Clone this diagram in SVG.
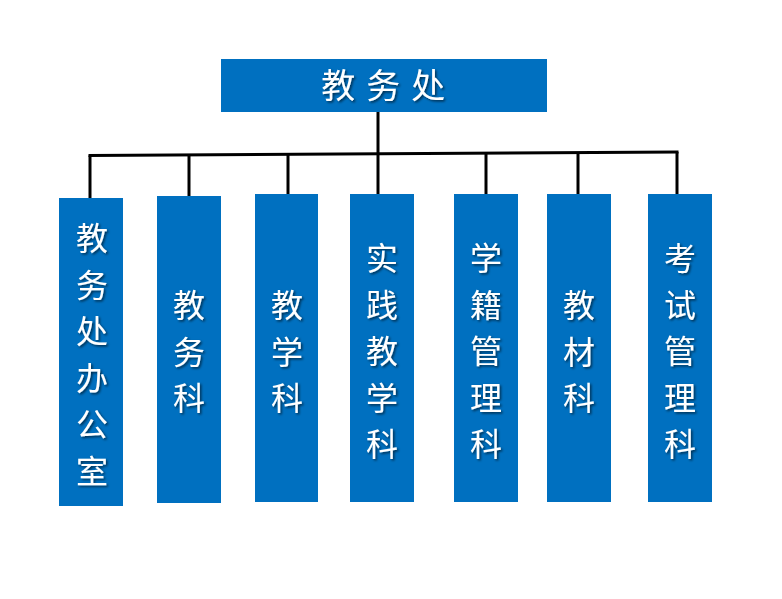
<svg xmlns="http://www.w3.org/2000/svg" width="782" height="599" viewBox="0 0 782 599">
<defs>
<filter id="sh" x="-20%" y="-20%" width="140%" height="140%">
<feDropShadow dx="1.5" dy="1.5" stdDeviation="1" flood-color="#000" flood-opacity="0.6"/>
</filter>
<style>
.box{fill:#0070C0;}
.t{font-family:"Noto Sans CJK SC","Noto Sans CJK JP",sans-serif;fill:#fff;text-anchor:middle;filter:url(#sh);}
.v{font-size:32px;}
.c{stroke:#000;stroke-width:3;fill:none;}
</style>
</defs>
<rect width="782" height="599" fill="#fff"/>
<g id="connectors">
<line class="c" x1="378" y1="112" x2="378" y2="194"/>
<line class="c" x1="88.5" y1="155.5" x2="678.5" y2="152"/>
<line class="c" x1="90" y1="155.5" x2="90" y2="198"/>
<line class="c" x1="189" y1="155" x2="189" y2="196"/>
<line class="c" x1="288" y1="154.5" x2="288" y2="194"/>
<line class="c" x1="486" y1="153.5" x2="486" y2="194"/>
<line class="c" x1="578" y1="153" x2="578" y2="194"/>
<line class="c" x1="677" y1="152" x2="677" y2="194"/>
</g>
<g id="root">
<rect class="box" x="221" y="59" width="326" height="53"/>
<text class="t" x="384" y="98" font-size="34" letter-spacing="1.7" xml:space="preserve">教 务 处</text>
</g>
<g id="n1">
<rect class="box" x="59" y="198" width="64" height="308"/>
<text class="t v" x="92"><tspan x="92" y="250">教</tspan><tspan x="92" dy="46.5">务</tspan><tspan x="92" dy="46.5">处</tspan><tspan x="92" dy="46.5">办</tspan><tspan x="92" dy="46.5">公</tspan><tspan x="92" dy="46.5">室</tspan></text>
</g>
<g id="n2">
<rect class="box" x="157" y="196" width="64" height="307"/>
<text class="t v"><tspan x="189" y="317">教</tspan><tspan x="189" dy="46.5">务</tspan><tspan x="189" dy="46.5">科</tspan></text>
</g>
<g id="n3">
<rect class="box" x="255" y="194" width="63" height="308"/>
<text class="t v"><tspan x="287" y="317">教</tspan><tspan x="287" dy="46.5">学</tspan><tspan x="287" dy="46.5">科</tspan></text>
</g>
<g id="n4">
<rect class="box" x="350" y="194" width="64" height="308"/>
<text class="t v"><tspan x="382" y="270">实</tspan><tspan x="382" dy="46.5">践</tspan><tspan x="382" dy="46.5">教</tspan><tspan x="382" dy="46.5">学</tspan><tspan x="382" dy="46.5">科</tspan></text>
</g>
<g id="n5">
<rect class="box" x="454" y="194" width="64" height="308"/>
<text class="t v"><tspan x="486" y="270">学</tspan><tspan x="486" dy="46.5">籍</tspan><tspan x="486" dy="46.5">管</tspan><tspan x="486" dy="46.5">理</tspan><tspan x="486" dy="46.5">科</tspan></text>
</g>
<g id="n6">
<rect class="box" x="547" y="194" width="64" height="308"/>
<text class="t v"><tspan x="579" y="317">教</tspan><tspan x="579" dy="46.5">材</tspan><tspan x="579" dy="46.5">科</tspan></text>
</g>
<g id="n7">
<rect class="box" x="648" y="194" width="64" height="308"/>
<text class="t v"><tspan x="680" y="270">考</tspan><tspan x="680" dy="46.5">试</tspan><tspan x="680" dy="46.5">管</tspan><tspan x="680" dy="46.5">理</tspan><tspan x="680" dy="46.5">科</tspan></text>
</g>
</svg>
